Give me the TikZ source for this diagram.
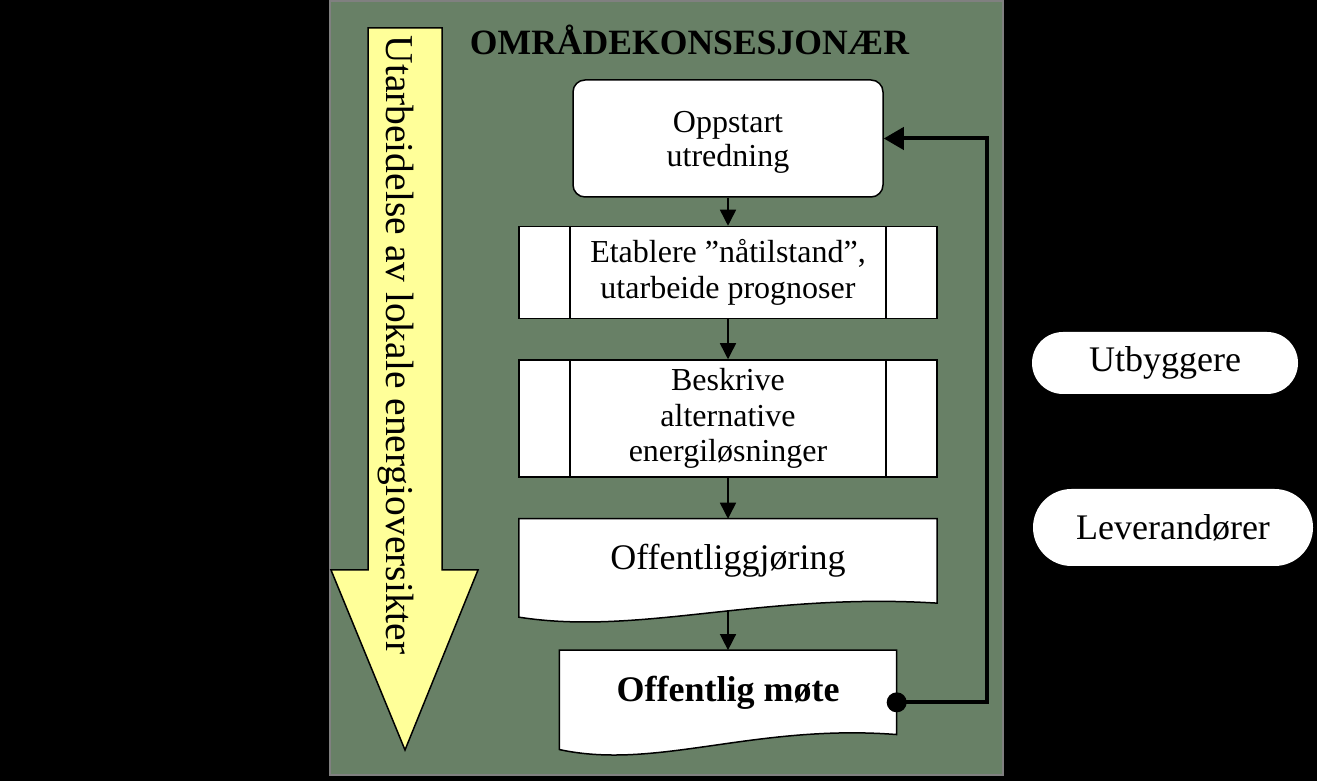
\documentclass[tikz,border=0pt]{standalone}
\usepackage{fontspec}
\setmainfont{Liberation Serif}
\usetikzlibrary{arrows.meta,positioning,shapes.misc,backgrounds}
\definecolor{panelgronn}{RGB}{104,128,102}
\definecolor{pilgul}{RGB}{255,255,153}
\definecolor{kant}{RGB}{128,128,128}
\newcommand{\skrift}[2]{\fontsize{#1pt}{#2pt}\selectfont}
\tikzset{
  boks/.style={draw,line width=1.5pt,fill=white,rounded corners=12pt,align=center,inner sep=0pt,
               font=\skrift{32}{35},minimum width=310pt,minimum height=117pt},
  prosess/.style={draw,line width=1.5pt,fill=white,align=center,inner sep=0pt,
                  font=\skrift{32}{35.5},minimum width=418pt,
                  path picture={\draw[line width=1.5pt]
                    ([xshift=51pt]path picture bounding box.north west) -- ([xshift=51pt]path picture bounding box.south west)
                    ([xshift=-51pt]path picture bounding box.north east) -- ([xshift=-51pt]path picture bounding box.south east);}},
  dokument/.style={align=center,inner sep=0pt,font=\skrift{36}{40},minimum height=84pt},
  dokkant/.style={draw,line width=1.5pt,fill=white},
  pil/.style={line width=1.5pt,-{Triangle[length=16pt,width=16pt]}},
  tilbake/.style={line width=4pt,-{Triangle[length=20pt,width=22pt]}},
  prikk/.style={circle,fill,inner sep=0pt,minimum size=20pt},
  aktor/.style={rounded rectangle,fill=white,inner sep=0pt,font=\skrift{36}{40}},
}
\begin{document}
\begin{tikzpicture}[x=1pt,y=1pt,node distance=30pt]
  \useasboundingbox (0,0) rectangle (1317,781);
  \begin{scope}[on background layer]
    \fill[black] (0,0) rectangle (1317,781);
    \draw[kant,line width=2pt,fill=panelgronn] (330,6) rectangle (1003,780);
  \end{scope}
  \draw[line width=1.5pt,fill=pilgul] (368,753) -- (442,753) -- (442,211) -- (478,211)
     -- (405,31) -- (331,211) -- (368,211) -- cycle;
  \node[rotate=-90,inner sep=0pt,font=\skrift{39.5}{44}] (oversikt) at (396,436)
     {Utarbeidelse av lokale energioversikter};
  \node[anchor=base,inner sep=0pt,font=\bfseries\skrift{35.6}{40}] (tittel) at (689.5,726) {OMRÅDEKONSESJONÆR};

  \node[boks] (start) at (728,642.5) {\raisebox{-4pt}[\height][\depth]{\begin{tabular}{@{}c@{}}Oppstart\\[-0.5pt]utredning\end{tabular}}};
  \node[prosess,minimum height=92pt,below=28pt of start] (naa) {Etablere ”nåtilstand”,\\utarbeide prognoser};
  \node[prosess,minimum height=117pt,below=40pt of naa] (alt) {Beskrive\\alternative\\energiløsninger};
  \node[dokument,minimum width=418pt,below=41pt of alt] (pub) {Offentliggjøring};
  \node[dokument,minimum width=337pt,below=47pt of pub,font=\bfseries\skrift{36}{40}] (mote) {Offentlig møte};
  \begin{scope}[on background layer]
    \draw[dokkant] (pub.north west) -- (pub.north east) -- (pub.south east)
       .. controls +(-177,11) and +(121,-19) .. ([yshift=-14pt]pub.south west) -- cycle;
    \draw[dokkant] (mote.north west) -- (mote.north east) -- (mote.south east)
       .. controls +(-143,11) and +(97,-21) .. ([yshift=-15pt]mote.south west) -- cycle;
  \end{scope}

  \draw[pil] (start) -- (naa);
  \draw[pil] (naa) -- (alt);
  \draw[pil] (alt) -- (pub);
  \draw[pil] ([yshift=-8pt]pub.south) -- (mote);

  \node[prikk] (prikk) at ([yshift=-10pt]mote.east) {};
  \coordinate (retur) at (987,400);
  \draw[tilbake] (prikk.center) -| (retur) |- (start.east);

  \node[aktor,minimum width=266pt,minimum height=62pt] (utb) at (1165,418) {Utbyggere};
  \node[aktor,minimum width=280pt,minimum height=77pt] (lev) at (1173,253.5) {Leverandører};
\end{tikzpicture}
\end{document}
